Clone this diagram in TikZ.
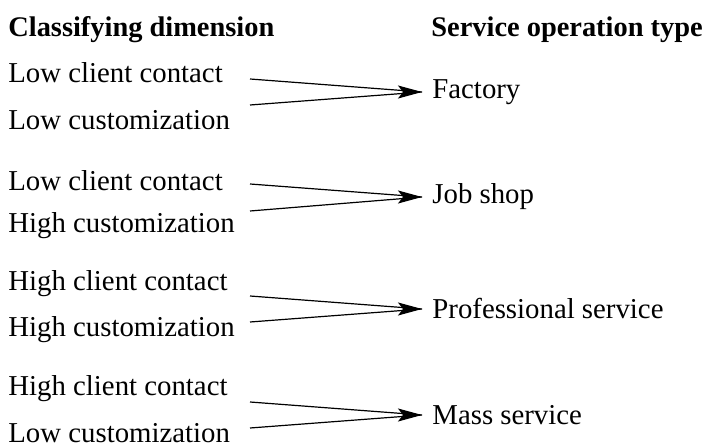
\documentclass[tikz,border=0pt]{standalone}
\usepackage{fontspec}
\setmainfont{Liberation Serif}
\usetikzlibrary{arrows.meta}

\newlength{\du}
\setlength{\du}{0.5pt}

\tikzset{
  dimtext/.style={anchor=west, inner sep=0pt, font=\fontsize{14.4}{16}\selectfont},
  typetext/.style={anchor=west, inner ysep=0pt, inner xsep=5pt, font=\fontsize{14.4}{16}\selectfont},
  headtext/.style={anchor=west, inner sep=0pt, font=\fontsize{14.2}{16}\selectfont\bfseries},
  convline/.style={line width=0.6pt},
  convtip/.style={-{Stealth[length=12pt,width=6.5pt,inset=2.5pt]}, line width=0.6pt}
}

\begin{document}
\begin{tikzpicture}
\pgftransformxscale{1.000000}
\pgftransformyscale{-1.000000}
\useasboundingbox (0\du,0\du) rectangle (706\du,448\du);
% headings
\node[headtext] (headdim) at (8\du,30\du){Classifying dimension};
\node[headtext] (headtype) at (431\du,30\du){Service operation type};
% factory
\node[dimtext] (lowcontacta) at (8\du,73\du){Low client contact};
\node[dimtext] (lowcustoma) at (8\du,120\du){Low customization};
\coordinate (fromaone) at (250\du,79\du);
\coordinate (fromatwo) at (250\du,105\du);
\node[typetext] (factory) at (422\du,92\du){Factory};
\draw[convline] (fromaone)--(factory.west) (fromatwo)--(factory.west);
\draw[convtip] ([xshift=-1pt]factory.west)--(factory.west);
% job shop
\node[dimtext] (lowcontactb) at (8\du,181\du){Low client contact};
\node[dimtext] (highcustomb) at (8\du,226\du){High customization};
\coordinate (fromboone) at (250\du,184\du);
\coordinate (frombtwo) at (250\du,211\du);
\node[typetext] (jobshop) at (422\du,197\du){Job shop};
\draw[convline] (fromboone)--(jobshop.west) (frombtwo)--(jobshop.west);
\draw[convtip] ([xshift=-1pt]jobshop.west)--(jobshop.west);
% professional service
\node[dimtext] (highcontactc) at (8\du,284\du){High client contact};
\node[dimtext] (highcustomc) at (8\du,330\du){High customization};
\coordinate (fromcone) at (250\du,296\du);
\coordinate (fromctwo) at (250\du,322\du);
\node[typetext] (profservice) at (422\du,309\du){Professional service};
\draw[convline] (fromcone)--(profservice.west) (fromctwo)--(profservice.west);
\draw[convtip] ([xshift=-1pt]profservice.west)--(profservice.west);
% mass service
\node[dimtext] (highcontactd) at (8\du,389\du){High client contact};
\node[dimtext] (lowcustomd) at (8\du,433\du){Low customization};
\coordinate (fromdone) at (250\du,402\du);
\coordinate (fromdtwo) at (250\du,428\du);
\node[typetext] (massservice) at (422\du,415\du){Mass service};
\draw[convline] (fromdone)--(massservice.west) (fromdtwo)--(massservice.west);
\draw[convtip] ([xshift=-1pt]massservice.west)--(massservice.west);
\end{tikzpicture}
\end{document}
